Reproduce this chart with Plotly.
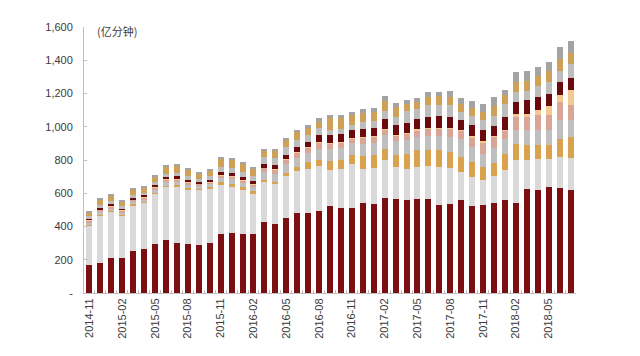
import plotly.graph_objects as go

months = ["2014-11","2014-12","2015-01","2015-02","2015-03","2015-04","2015-05","2015-06","2015-07","2015-08",
          "2015-09","2015-10","2015-11","2015-12","2016-01","2016-02","2016-03","2016-04","2016-05","2016-06",
          "2016-07","2016-08","2016-09","2016-10","2016-11","2016-12","2017-01","2017-02","2017-03","2017-04",
          "2017-05","2017-06","2017-07","2017-08","2017-09","2017-10","2017-11","2017-12","2018-01","2018-02",
          "2018-03","2018-04","2018-05","2018-06","2018-07"]

s1 = [168,182,212,208,252,264,294,318,298,294,288,302,352,360,352,354,428,418,454,482,
      482,494,522,512,514,542,538,574,568,558,564,568,528,536,558,522,532,544,558,544,
      628,622,638,632,618]
s2 = [240,286,276,260,276,278,304,320,344,328,334,326,296,278,266,244,240,236,248,250,
      266,268,220,236,260,206,216,224,190,190,194,194,230,214,170,176,150,158,180,254,
      170,186,170,186,192]
s3 = [4,4,4,4,6,6,6,8,8,8,6,8,18,18,18,16,14,16,20,26,
      40,36,50,50,56,76,76,70,74,90,100,96,100,98,90,90,76,78,100,100,
      90,80,80,110,126]
s4 = [14,16,18,14,16,16,18,22,22,22,18,20,28,30,28,26,46,48,52,56,
      56,70,76,74,70,74,74,80,80,80,80,84,86,90,110,90,80,90,90,80,
      90,90,90,110,102]
s5 = [10,12,12,10,10,10,12,12,12,12,10,10,14,16,14,14,26,26,28,30,
      30,40,34,34,32,36,36,38,38,40,42,46,46,50,50,60,70,70,50,80,
      80,90,90,110,90]
s6 = [4,4,4,4,4,4,4,4,4,4,4,4,4,4,4,4,0,2,2,2,
      2,2,2,2,2,2,2,2,2,4,4,4,4,4,4,4,4,4,4,20,
      20,34,54,40,96]
s7 = [8,10,10,8,10,10,10,12,14,14,10,12,18,18,18,16,24,26,28,30,
      32,40,46,46,44,50,50,56,56,60,62,66,68,66,60,70,70,60,76,70,
      80,76,76,80,72]
s8 = [14,16,16,14,16,16,18,22,22,22,18,20,30,30,30,28,40,42,44,44,
      42,40,30,34,34,42,42,50,50,70,60,70,70,70,46,50,56,60,80,60,
      60,70,70,70,84]
s9 = [24,30,32,26,30,30,34,40,40,40,32,36,46,48,46,44,40,42,44,46,
      42,40,70,62,56,56,56,60,58,44,44,50,50,50,50,52,50,60,50,60,
      60,60,70,70,66]
s10 = [8,8,8,6,8,8,8,10,10,10,8,10,12,12,12,10,6,10,12,14,
       16,20,22,22,20,24,24,28,26,22,24,30,30,40,36,40,46,52,34,60,
       60,54,50,70,72]

series = [s1, s2, s3, s4, s5, s6, s7, s8, s9, s10]
colors = ["#7B0F12", "#D9D9D9", "#DAA24F", "#BFBFBF", "#D9A597",
          "#F3C98F", "#6A0A0C", "#BDBDBD", "#CFA058", "#A3A3A3"]

y_ticks = [0, 200, 400, 600, 800, 1000, 1200, 1400, 1600]
y_labels = ["-", "200", "400", "600", "800", "1,000", "1,200", "1,400", "1,600"]

x_text = [m if i % 3 == 0 else "" for i, m in enumerate(months)]

fig = go.Figure()
for vals, col in zip(series, colors):
    fig.add_trace(go.Bar(x=months, y=vals, marker=dict(color=col, line=dict(width=0)),
                         showlegend=False, hoverinfo="skip"))

font_family = "Liberation Sans, Arial, sans-serif"
fig.update_layout(
    barmode="stack",
    bargap=0.45,
    width=640, height=356,
    margin=dict(l=76, r=72, t=19, b=71, autoexpand=False),
    plot_bgcolor="white", paper_bgcolor="white",
    font=dict(family=font_family, size=11, color="#3a3a3a"),
    xaxis=dict(type="category", tickmode="array", tickvals=months, ticktext=x_text,
               tickangle=-90, showline=True, linecolor="#BFBFBF", linewidth=1,
               ticks="inside", ticklen=3, tickcolor="#BFBFBF", tickson="boundaries",
               showgrid=False, automargin=False, tickfont=dict(size=11, color="#3a3a3a")),
    yaxis=dict(range=[0, 1600], tickmode="array", tickvals=y_ticks, ticktext=y_labels,
               showline=True, linecolor="#BFBFBF", linewidth=1, ticks="inside",
               ticklen=3, tickcolor="#BFBFBF", showgrid=False, zeroline=False,
               automargin=False, ticklabelstandoff=8,
               tickfont=dict(size=11, color="#3a3a3a")),
    annotations=[dict(text="(亿分钟)", x=0.022, xref="paper", y=0.985, yref="paper",
                      xanchor="left", yanchor="middle", showarrow=False,
                      font=dict(family="Noto Sans CJK SC", size=11, color="#3a3a3a"))]
)

fig.write_html("out.html")
